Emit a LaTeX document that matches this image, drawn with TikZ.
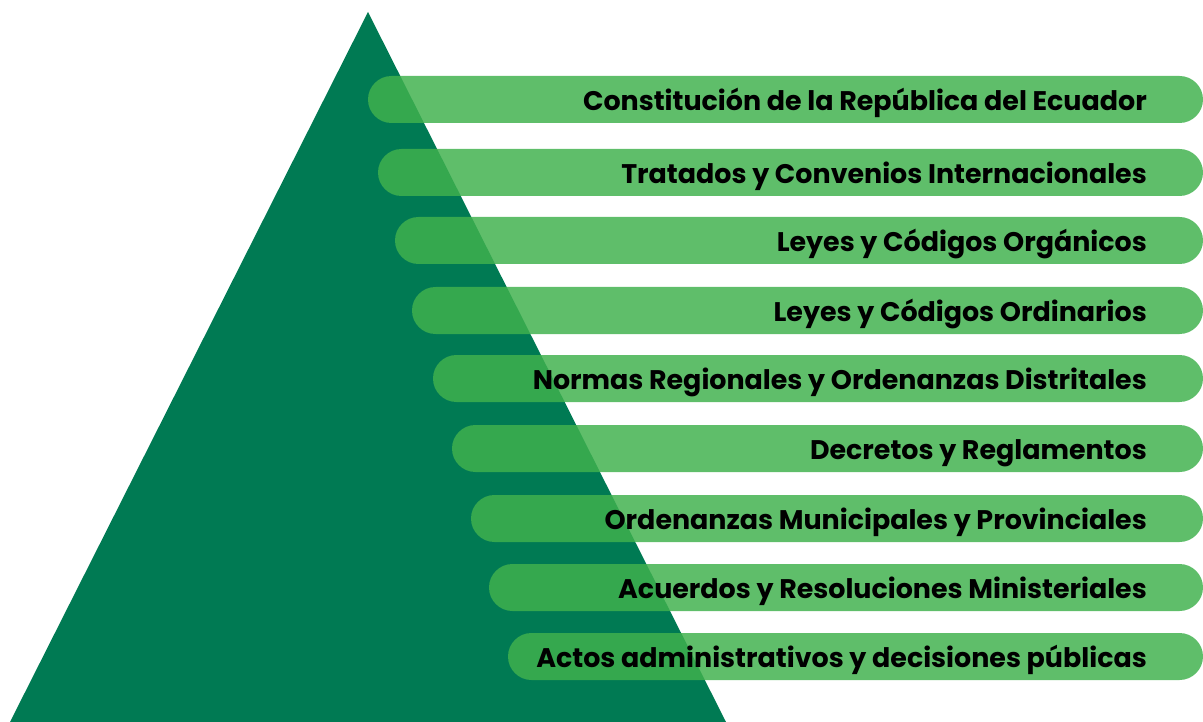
\documentclass[tikz,border=0pt]{standalone}
\usepackage{fontspec}
\setmainfont{Poppins}
\usepackage{xcolor}
\usepackage{tikz}
\definecolor{PyrGreen}{HTML}{007A53}
\definecolor{BarGreen}{HTML}{40B14E}

\tikzset{
  level bar/.style={fill=BarGreen, fill opacity=0.84, rounded corners=23.5pt},
  level text/.style={anchor=base east, inner sep=0pt, text=black,
    font=\fontsize{26.9pt}{30pt}\selectfont\bfseries}
}

\begin{document}
\begin{tikzpicture}[x=1pt, y=-1pt]
  \useasboundingbox (0,0) rectangle (1203,722);
  % pyramid
  \fill[PyrGreen] (368,12) -- (726,722) -- (10,722) -- cycle;
  % bars: left edge / top / label
  \foreach \lx/\ty/\name/\txt in {
      368/76/lvla/{Constitución de la República del Ecuador},
      378/149/lvlb/{Tratados y Convenios Internacionales},
      395/217/lvlc/{Leyes y Códigos Orgánicos},
      412/287/lvld/{Leyes y Códigos Ordinarios},
      433/355/lvle/{Normas Regionales y Ordenanzas Distritales},
      452/425/lvlf/{Decretos y Reglamentos},
      471/495/lvlg/{Ordenanzas Municipales y Provinciales},
      489/564/lvlh/{Acuerdos y Resoluciones Ministeriales},
      508/633/lvli/{Actos administrativos y decisiones públicas}} {
    \fill[level bar] (\lx,\ty) rectangle (1203,\ty+47);
    \node[level text] (\name) at (1147,\ty+34.5) {\txt};
  }
\end{tikzpicture}
\end{document}
